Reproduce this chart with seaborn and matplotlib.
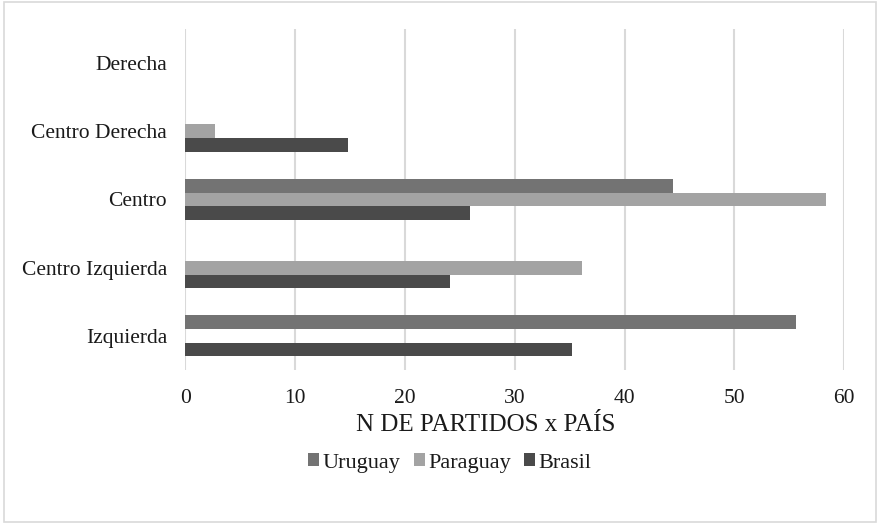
import pandas as pd
import matplotlib.pyplot as plt
import seaborn as sns
from matplotlib.patches import Rectangle

# Data
categorias = ['Derecha', 'Centro Derecha', 'Centro', 'Centro Izquierda', 'Izquierda']
uruguay = [0, 0, 44.4, 0, 55.6]
paraguay = [0, 2.7, 58.3, 36.1, 0]
brasil = [0, 14.8, 25.9, 24.1, 35.2]
paises = ['Uruguay', 'Paraguay', 'Brasil']
colores = ['#737373', '#a3a3a3', '#4a4a4a']

data = pd.DataFrame({
    'categoria': categorias * 3,
    'pais': [p for p in paises for _ in categorias],
    'valor': uruguay + paraguay + brasil,
})

sns.set_style('white')
plt.rcParams['font.family'] = ['Liberation Serif', 'DejaVu Serif']

fig = plt.figure(figsize=(8.78, 5.23), dpi=100)
ax = fig.add_axes([185.3 / 878, 1 - 370 / 523, 659 / 878, 341 / 523])

sns.barplot(data=data, y='categoria', x='valor', hue='pais', order=categorias,
            hue_order=paises, palette=colores, orient='h', width=0.6,
            saturation=1, linewidth=0, ax=ax)

ax.set_xlim(0, 60)
ax.set_xticks(range(0, 61, 10))
ax.grid(axis='x', color='#d9d9d9', linewidth=1.5)
ax.set_axisbelow(True)
for s in ax.spines.values():
    s.set_visible(False)
ax.tick_params(axis='both', length=0, labelsize=15.5, colors='#1a1a1a')
ax.tick_params(axis='x', pad=14)
ax.tick_params(axis='y', pad=13)
ax.set_xlabel('')
ax.set_ylabel('')

fig.text(486 / 878, 1 - 425 / 523, 'N DE PARTIDOS x PAÍS', ha='center', va='center',
         fontsize=18, color='#1a1a1a')

handles, labels = ax.get_legend_handles_labels()
ax.get_legend().remove()
fig.legend(handles, labels, loc='center', bbox_to_anchor=(450 / 878, 1 - 463 / 523),
           ncol=3, frameon=False, fontsize=16, handlelength=0.5, handleheight=0.5,
           handletextpad=0.15, columnspacing=0.6, labelcolor='#1a1a1a')

# light border around the chart area
fig.patches.append(Rectangle((4 / 878, 1 / 523), 872 / 878, 520 / 523,
                             transform=fig.transFigure, fill=False,
                             edgecolor='#d9d9d9', linewidth=1.2))

plt.savefig('out.png', dpi=100)
